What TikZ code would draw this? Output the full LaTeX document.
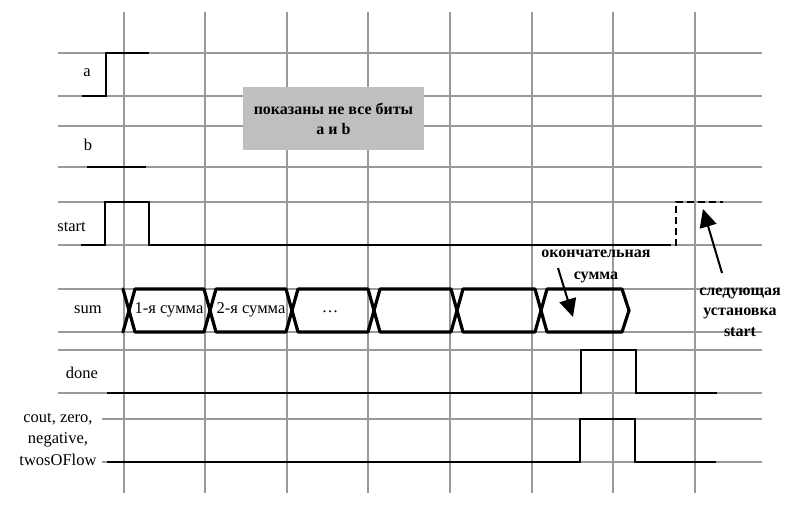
\documentclass[tikz,border=0pt]{standalone}
\usepackage{fontspec}
\setmainfont{Liberation Serif}
\usetikzlibrary{arrows.meta}
\begin{document}
\begin{tikzpicture}[x=1pt,y=-1pt,
  gridline/.style={draw=black!40, line width=1.3pt},
  sig/.style={draw=black, line width=2.2pt, line join=miter},
  dsig/.style={sig, dash pattern=on 7pt off 4pt},
  bus/.style={draw=black, line width=3.2pt, line join=round, line cap=round},
  lbl/.style={font=\fontsize{16.5}{19}\selectfont, inner sep=0pt},
  ann/.style={font=\bfseries\fontsize{16}{21}\selectfont, align=center, inner sep=0pt},
  greybox/.style={fill=black!25, draw=none},
  bigarrow/.style={-{Triangle[length=18pt,width=17pt]}, line width=2pt}]
\useasboundingbox (0,0) rectangle (795,518);
\fill[white] (0,0) rectangle (795,518);
% grid
\foreach \y in {53,96,126,167,202,245,289,332,350,393}
  \draw[gridline] (58,\y) -- (762,\y);
\draw[gridline] (102,419) -- (762,419);
\draw[gridline] (102,462) -- (762,462);
\foreach \x in {124,205,287,368,450,532,613,695}
  \draw[gridline] (\x,12) -- (\x,493);
% grey note
\fill[greybox] (243,87) rectangle (424,150);
\node[ann, font=\bfseries\fontsize{16}{20}\selectfont] (note) at (333.5,119) {показаны не все биты\\a и b};
% labels
\node[lbl] (la) at (87,73) {a};
\node[lbl] (lb) at (88,145) {b};
\node[lbl, anchor=east] (lstart) at (86,227) {start};
\node[lbl] (lsum) at (88,310) {sum};
\node[lbl] (ldone) at (82,373) {done};
\node[lbl, align=center, font=\fontsize{16.5}{21.5}\selectfont] (lflags) at (58,439) {cout, zero,\\negative,\\twosOFlow};
% signal a
\draw[sig] (82,96) -- (106,96) -- (106,53) -- (149,53);
% signal b
\draw[sig] (87,167) -- (146,167);
% start
\draw[sig] (81,245) -- (105,245) -- (105,202) -- (149,202) -- (149,245) -- (664,245);
\draw[dsig] (664,245) -- (676,245) -- (676,202) -- (723,202);
% sum bus
\draw[bus] (123,289) -- (129,310.5) -- (123,332);
\foreach \s/\n in {123/204,204/286,286/368,368/451,451/535}
  \draw[bus] (\s+6,310.5) -- (\s+12,289) -- (\n,289) -- (\n+6,310.5) -- (\n,332) -- (\s+12,332) -- cycle;
\draw[bus] (541,310.5) -- (547,289) -- (622,289) -- (629,310.5) -- (622,332) -- (547,332) -- cycle;
\node[lbl] (s1) at (169,310) {1-я сумма};
\node[lbl] (s2) at (251,310) {2-я сумма};
\node[lbl] (s3) at (330,312) {…};
% done
\draw[sig] (107,393) -- (581,393) -- (581,350) -- (636,350) -- (636,393) -- (717,393);
% flags
\draw[sig] (107,462) -- (580,462) -- (580,419) -- (635,419) -- (635,462) -- (716,462);
% annotations
\node[ann, font=\bfseries\fontsize{16}{22}\selectfont] (final) at (596,266) {окончательная\\сумма};
\node[ann, font=\bfseries\fontsize{16}{20.5}\selectfont] (next) at (740,312) {следующая\\установка\\start};
\coordinate (f1) at (558,268);
\coordinate (f2) at (573,317);
\draw[bigarrow] (f1) -- (f2);
\coordinate (n1) at (722,273);
\coordinate (n2) at (703,209);
\draw[bigarrow] (n1) -- (n2);
\end{tikzpicture}
\end{document}
